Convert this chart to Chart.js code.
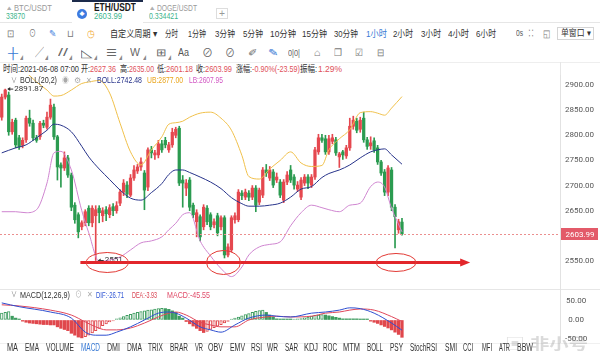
<!DOCTYPE html>
<html lang="zh-CN">
<head>
<meta charset="utf-8">
<title>ETH/USDT 1小时</title>
<script src="https://cdn.jsdelivr.net/npm/chart.js@4.4.1/dist/chart.umd.min.js"></script>
<style>
html,body{margin:0;padding:0;background:#fff;}
#root{position:relative;width:600px;height:358px;overflow:hidden;background:#fff;font-family:"Liberation Sans","Noto Sans CJK SC",sans-serif;}
.t{position:absolute;white-space:nowrap;line-height:1;transform-origin:0 50%;z-index:5;}
.ln{position:absolute;background:#e6e6e6;z-index:1;}
canvas{position:absolute;left:0;z-index:2;}
</style>
</head>
<body>
<div id="root">
  <div class="ln" style="left:0;top:22px;width:600px;height:1px"></div>
  <div style="position:absolute;left:72px;top:0;width:71px;height:23px;background:#fff;border-top:2px solid #1c2b4b;box-sizing:border-box;z-index:3"></div>
  <div style="position:absolute;left:77px;top:9px;width:10px;height:10px;border-radius:50%;background:#3d7be0;z-index:4"></div>
  <div style="position:absolute;left:216px;top:8px;width:12px;height:11px;border:1px solid #ddd;box-sizing:border-box;z-index:3"></div>
  <div style="position:absolute;left:557px;top:27px;width:37px;height:13px;border:1px solid #d5d5d5;box-sizing:border-box;z-index:3"></div>
  <div class="ln" style="left:0;top:62px;width:600px;height:1px;background:#eee"></div>
  <div class="ln" style="left:560px;top:62px;width:1px;height:13px"></div>
  <div class="ln" style="left:0;top:289px;width:600px;height:1px"></div>
  <div class="ln" style="left:0;top:343px;width:600px;height:1px;background:#f0f0f0"></div>
  <canvas id="main" width="600" height="214" style="top:75px"></canvas>
  <canvas id="macd" width="600" height="54" style="top:289px"></canvas>
</div>
<script>
// ---------- data ----------
const open = [
 2836,2876,2880,2807,2830,2795,2780,2791,2834,2824,
 2795,2797,2824,2816,2836,2856,2797,2741,2735,2755,
 2721,2661,2642,2618,2626,2655,2626,2640,2655,2640,
 2652,2642,2658,2650,2665,2687,2701,2681,2715,2729,
 2737,2725,2697,2771,2761,2761,2783,2790,2771,2781,
 2800,2814,2711,2695,2711,2661,2628,2638,2618,2655,
 2642,2622,2640,2618,2636,2562,2572,2632,2632,2685,
 2677,2685,2677,2695,2667,2681,2731,2715,2727,2711,
 2707,2671,2707,2731,2717,2693,2677,2705,2717,2701,
 2717,2767,2795,2793,2767,2788,2791,2757,2767,2759,
 2775,2818,2828,2812,2834,2791,2779,2789,2775,2747,
 2727,2687,2731,2657,2612,2627.36];
const high = [
 2882,2891.87,2886,2832,2834,2800,2795,2838,2850,2830,
 2800,2828,2830,2846,2872,2862,2800,2745,2767,2760,
 2725,2666,2646,2630,2652,2660,2660,2660,2660,2656,
 2658,2662,2664,2668,2692,2712,2708,2722,2740,2742,
 2755,2730,2775,2778,2770,2790,2790,2796,2786,2814,
 2816,2818,2720,2712,2716,2665,2652,2642,2662,2660,
 2646,2634,2645,2640,2640,2584,2640,2646,2692,2690,
 2693,2690,2700,2700,2695,2736,2742,2738,2732,2725,
 2712,2712,2728,2740,2722,2708,2716,2722,2722,2722,
 2776,2802,2802,2800,2800,2802,2796,2766,2770,2780,
 2834,2838,2834,2836,2846,2796,2797,2795,2780,2750,
 2732,2740,2736,2662,2633,2635];
const low = [
 2830,2872,2800,2802,2775,2772,2775,2786,2818,2790,
 2786,2792,2815,2812,2832,2792,2711,2697,2730,2716,
 2650,2625,2596,2612,2620,2620,2618,2551,2626,2628,
 2630,2636,2640,2645,2660,2680,2676,2678,2710,2724,
 2730,2652,2690,2755,2752,2755,2766,2775,2766,2776,
 2795,2700,2657,2680,2650,2636,2598,2590,2612,2622,
 2612,2616,2600,2612,2556,2558,2568,2625,2628,2672,
 2672,2670,2672,2648,2662,2676,2718,2710,2696,2706,
 2676,2666,2702,2706,2693,2688,2672,2700,2694,2696,
 2712,2762,2786,2762,2762,2783,2760,2736,2752,2754,
 2770,2812,2805,2806,2786,2772,2772,2766,2742,2720,
 2680,2680,2650,2576,2605,2601.18];
const close = [
 2876,2890,2807,2826,2781,2777,2790,2834,2824,2795,
 2790,2824,2820,2836,2860,2797,2737,2735,2755,2721,
 2657,2632,2608,2626,2648,2626,2655,2652,2646,2650,
 2644,2656,2650,2660,2687,2705,2683,2715,2731,2737,
 2747,2691,2771,2765,2765,2783,2771,2781,2781,2806,
 2812,2705,2705,2705,2657,2642,2646,2598,2657,2628,
 2618,2628,2606,2636,2562,2578,2636,2640,2687,2680,
 2687,2677,2695,2661,2691,2731,2725,2731,2701,2717,
 2681,2707,2721,2711,2701,2701,2711,2717,2705,2717,
 2771,2795,2790,2767,2793,2795,2765,2763,2761,2775,
 2818,2830,2810,2830,2791,2778,2785,2771,2747,2725,
 2687,2735,2657,2638,2628,2603.99];

// BOLL(20,2) read at these candle positions
const bollIdx = [0,4,7,10,13,15,17,20,23,25,28,31,34,37,40,43,46,48,50,52,54,57,60,63,66,69,71,74,77,80,83,86,89,92,94,97,100,103,106,108,110,112,115];
const bollMid = [2765,2775,2781,2795,2810,2822,2820,2807,2778,2757,2733,2712,2691,2675,2671,2686,2704,2722,2731,2731,2726,2717,2707,2694,2676,2664,2659,2659,2661,2665,2677,2693,2698,2716,2724,2731,2741,2755,2767,2771,2773,2761,2742.48];
const bollUp  = [2950,2940,2925,2906,2890,2878,2879,2890,2903,2906,2909,2884,2824,2767,2741,2771,2797,2822,2825,2828,2836,2844,2846,2834,2810,2760,2718,2713,2733,2750,2767,2745,2738,2740,2771,2793,2811,2845,2847,2844,2840,2854,2877.00];
const bollLow = [2648,2648,2646,2652,2705,2765,2768,2731,2650,2606,2549,2552,2558,2572,2586,2590,2598,2612,2625,2642,2646,2590,2560,2535,2519,2538,2562,2578,2583,2588,2620,2646,2661,2656,2652,2648,2661,2665,2698,2707,2697,2655,2607.95];

// MACD(12,26,9)
const macdHist = [
 18,20,22,10,5,2,-3,-6,-8,-9,
 -10,-11,-12,-12,-13,-13,-18,-22,-25,-28,
 -35,-40,-45,-47,-44,-40,-34,-28,-22,-15,
 -10,-5,-2,3,6,9,12,15,18,20,
 22,24,26,27,29,30,31,30,28,24,
 20,10,5,-4,-10,-16,-22,-28,-33,-30,
 -25,-20,-16,-12,-8,-4,2,5,8,11,
 14,17,20,23,25,26,20,13,7,3,
 2,2,2,1,2,3,4,6,8,10,
 12,13,14,13,11,9,7,5,3,3,
 3,3,3,2,1,0.5,-3,-6,-9,-13,
 -17,-21,-26,-32,-38,-45.55];
const macdIdx = [0,5,14,20,24,27,30,33,37,41,45,48,50,53,57,60,63,67,71,76,79,83,89,93,97,100,103,107,112,115];
const dif = [45,35,21,5,-32,-40,-40,-32,-18,0,18,21,18,5,-18,-26,-32,-13,5,13,10,8,18,21,26,32,30,18,-8,-26.71];
const dea = [40,37,26,13,-5,-18,-26,-26,-21,-8,8,18,21,13,-6,-13,-18,-18,0,8,10,8,10,18,21,26,29,26,9,-3.93];

// axis tick labels
const priceTicks = [2550,2600,2650,2700,2750,2800,2850,2900];
const macdTicks = [-50,0,50];

// ---------- styling / layout ----------
const RED = '#e5484f', GREEN = '#2b9b50';
const cColor = close.map((c,i)=> c>=open[i] ? RED : GREEN);
const fmt = v => String(Number(v.toFixed(2)));

// hand-drawn annotation anchors (candle indices)
const circled = [27,64,113];
const circleStyle = [{dx:11.5,rx:21,ry:10},{dx:-1,rx:17,ry:12},{dx:1,rx:20,ry:9}];
const arrowFrom = 22.6, arrowTo = 134.6;

function yScale(min,max,ticksArr){
  return {
    position:'right', min, max,
    afterBuildTicks:s=>{ s.ticks = ticksArr.map(v=>({value:v})); },
    afterFit:s=>{ s.width=40; s.paddingTop=0; s.paddingBottom=0; },
    ticks:{padding:5, crossAlign:'center', color:'#555', font:{family:'Roboto', size:8}, callback:v=>Number(v).toFixed(2)},
    grid:{drawOnChartArea:false, drawTicks:false},
    border:{display:true, color:'#e2e2e2'}
  };
}
const xScale = {type:'linear', min:-0.5, max:160.4, display:false, offset:false};

const annot = {
  id:'annot',
  afterDatasetsDraw(chart){
    const {ctx, chartArea:a, scales:{x,y}} = chart;
    const last = close[close.length-1];
    const yl = Math.round(y.getPixelForValue(last))+0.5;
    ctx.save();
    ctx.strokeStyle='#eb8f8f'; ctx.lineWidth=1; ctx.setLineDash([2,2]);
    ctx.beginPath(); ctx.moveTo(a.left,yl); ctx.lineTo(a.right,yl); ctx.stroke();
    ctx.setLineDash([]);
    // max / min markers
    const hi = Math.max(...high), lo = Math.min(...low);
    const iMax = high.indexOf(hi), iMin = low.indexOf(lo);
    ctx.font='8px Roboto'; ctx.textBaseline='middle'; ctx.textAlign='left';
    ctx.fillStyle='#333'; ctx.strokeStyle='#333';
    [[iMax,hi],[iMin,lo]].forEach(([i,v])=>{
      const px = x.getPixelForValue(i), py = y.getPixelForValue(v);
      ctx.beginPath(); ctx.moveTo(px+3,py); ctx.lineTo(px+8,py); ctx.stroke();
      ctx.beginPath(); ctx.moveTo(px+2,py); ctx.lineTo(px+5,py-2); ctx.lineTo(px+5,py+2); ctx.closePath(); ctx.fill();
      ctx.fillText(fmt(v), px+9, py-0.5);
    });
    // hand-drawn red arrow and circles
    const ya = y.getPixelForValue(lo)+2;
    const x1 = x.getPixelForValue(arrowFrom), x2 = x.getPixelForValue(arrowTo);
    ctx.strokeStyle='#e2262b'; ctx.fillStyle='#e2262b'; ctx.lineWidth=3;
    ctx.beginPath(); ctx.moveTo(x1,ya); ctx.lineTo(x2-8,ya); ctx.stroke();
    ctx.beginPath(); ctx.moveTo(x2,ya); ctx.lineTo(x2-10,ya-4); ctx.lineTo(x2-10,ya+4); ctx.closePath(); ctx.fill();
    ctx.lineWidth=1; ctx.strokeStyle='#e23a35';
    circled.forEach((i,k)=>{
      const st = circleStyle[k];
      ctx.beginPath(); ctx.ellipse(x.getPixelForValue(i)+st.dx, ya, st.rx, st.ry, 0, 0, Math.PI*2); ctx.stroke();
    });
    ctx.restore();
  },
  afterDraw(chart){
    const {ctx, scales:{y}} = chart;
    const last = close[close.length-1];
    const yl = Math.round(y.getPixelForValue(last));
    ctx.save();
    ctx.fillStyle='#e35a69';
    ctx.fillRect(561, yl-6, 37, 12);
    ctx.fillStyle='#fff'; ctx.font='8px Roboto'; ctx.textAlign='center'; ctx.textBaseline='middle';
    ctx.fillText(last.toFixed(2), 580, yl+0.5);
    ctx.restore();
  }
};

const lineDs = (idx, vals, color) => ({
  type:'line', data: idx.map((xv,i)=>({x:xv, y:vals[i]})), borderColor:color, borderWidth:1,
  pointRadius:0, cubicInterpolationMode:'monotone', fill:false, order:0
});

new Chart(document.getElementById('main'), {
  type:'bar',
  data:{datasets:[
    lineDs(bollIdx, bollUp, '#f0c04a'),
    lineDs(bollIdx, bollMid, '#27338a'),
    lineDs(bollIdx, bollLow, '#cf85d0'),
    {label:'body', data: open.map((o,i)=>({x:i, y:[o, close[i]]})), backgroundColor:cColor, barThickness:2.6, grouped:false, minBarLength:1, order:1},
    {label:'wick', data: open.map((o,i)=>({x:i, y:[low[i], high[i]]})), backgroundColor:cColor, barThickness:1, grouped:false, order:2}
  ]},
  options:{
    responsive:false, animation:false, devicePixelRatio:1,
    layout:{padding:0},
    plugins:{legend:{display:false}, tooltip:{enabled:false}},
    scales:{ x:xScale, y:yScale(2494.3, 2919.9, priceTicks) }
  },
  plugins:[annot]
});

const hollow = macdHist.map((v,i)=> i===0 ? true : v > macdHist[i-1]);
const hColor = macdHist.map(v=> v>=0 ? '#3d9c5f' : '#e0474c');
new Chart(document.getElementById('macd'), {
  type:'bar',
  data:{datasets:[
    lineDs(macdIdx, dif, '#2f4fd0'),
    lineDs(macdIdx, dea, '#e0475a'),
    {label:'MACD', data: macdHist.map((v,i)=>({x:i, y:v})),
     backgroundColor: macdHist.map((v,i)=> hollow[i] ? '#ffffff' : hColor[i]),
     borderColor: hColor, borderWidth: hollow.map(h=> h?1:0), borderSkipped:false,
     barThickness:2.6, minBarLength:1, grouped:false, order:1}
  ]},
  options:{
    responsive:false, animation:false, devicePixelRatio:1,
    layout:{padding:0},
    plugins:{legend:{display:false}, tooltip:{enabled:false}},
    scales:{ x:xScale, y:yScale(-60.53, 81.58, macdTicks) }
  }
});

// ---------- interface text ----------
const R = '#e0505a';
const UI = [
 ['▴',7,7,5,7,'#b0b0b0'],['BTC/USDT',14,7.5,38,9.5,'#9a9a9a'],['33870',6,16.5,19,8.5,'#3cb48c'],
 ['♦',79,14,6,8,'#ffffff'],['ETH/USDT',94,8,42,10,'#1a1a1a',1],['2603.99',94,16.5,28,8.5,'#3cb48c'],
 ['▴',150,7,5,7,'#b0b0b0'],['DOGE/USDT',157,7.5,40,9.5,'#9a9a9a'],['0.334421',149,16.5,29,8.5,'#3cb48c'],
 ['+',219,13.5,6,10,'#999'],
 ['⊡',7,33.5,7,10,'#777'],['⊙',29,33.5,7,10,'#777'],['✎',49,33.5,7,10,'#4a86e0'],['⊔',67,33.5,7,10,'#777'],['◷',87,33.5,8,10,'#f2a72a'],
 ['自定义周期 ▾',110,33.5,47,9.5,'#333'],['分时',165,33.5,13,9.5,'#333'],['1分钟',188,33.5,18,9.5,'#333'],
 ['3分钟',215,33.5,20,9.5,'#333'],['5分钟',243,33.5,20,9.5,'#333'],['10分钟',270,33.5,26,9.5,'#333'],
 ['15分钟',302,33.5,25,9.5,'#333'],['30分钟',334,33.5,24,9.5,'#333'],['1小时',366,33.5,21,9.5,'#3a7bd5'],
 ['2小时',393,33.5,20,9.5,'#333'],['3小时',421,33.5,20,9.5,'#333'],['4小时',448,33.5,21,9.5,'#333'],
 ['6小时',476,33.5,20,9.5,'#333'],['0s',516,33.5,7,9,'#555'],['∷',528,33.5,6,10,'#777'],['◱',543,33.5,7,10,'#777'],
 ['单窗口 ▾',561,33.5,30,9,'#333'],
 ['┼',8,53,10,11,'#3a7bd5'],['╱',35,53,9,10,'#666'],['//',58,53,10,10,'#666'],['◺',81,53,11,11,'#666'],
 ['☰',106,53,11,10,'#666'],['W',130,53,10,10,'#666'],['⊞',156,53,10,10,'#666'],['Aa',178,53,11,10,'#555'],
 ['⊘',202,53,11,11,'#666'],['⊘',225,53,10,11,'#666'],['✐',248,53,9,10,'#666'],['✎',268,53,10,10,'#3a7bd5'],
 ['0|0|',288,53,12,9,'#666'],['⌂',314,53,7,10,'#777'],['❐',334,53,8,10,'#777'],['☑',355,53,8,10,'#777'],['⊟',377,53,7,10,'#777'],
 ['◢',20,57,3,5,'#888'],['◢',45,57,3,5,'#888'],['◢',69,57,3,5,'#888'],['◢',94,57,3,5,'#888'],['◢',119,57,3,5,'#888'],['◢',143,57,3,5,'#888'],['◢',168,57,3,5,'#888'],
 ['时间:2021-06-08 07:00',3,68.5,76,9.5,'#333'],
 ['开:',81,68.5,9,9.5,'#333'],['2627.36',90,68.5,26,9.5,R],
 ['高:',120,68.5,9,9.5,'#333'],['2635.00',129,68.5,25,9.5,R],
 ['低:',157,68.5,9,9.5,'#333'],['2601.18',166,68.5,27,9.5,R],
 ['收:',196,68.5,9,9.5,'#333'],['2603.99',205,68.5,27,9.5,R],
 ['涨幅:',236,68.5,16,9.5,'#333'],['-0.90%(-23.59)',252,68.5,48,9.5,R],
 ['振幅:',300,68.5,17,9.5,'#333'],['1.29%',318,68.5,24,9.5,R],
 ['∨',11,80.5,6,8,'#888'],['BOLL(20,2)',20,80.5,37,9,'#333'],['◉',62,80.5,7,8,'#aaa'],['⚙',74,80.5,7,8,'#aaa'],['✕',86,80.5,6,8,'#aaa'],
 ['BOLL:2742.48',97,80.5,45,9,'#27338a'],['UB:2877.00',147,80.5,36,9,'#eaa51c'],['LB:2607.95',189,80.5,34,9,'#d258c4'],
 ['∨',11,295,6,8,'#888'],['MACD(12,26,9)',20,295,50,9,'#333'],['⊙',75,295,7,8,'#aaa'],['✕',87,295,6,8,'#aaa'],
 ['DIF:-26.71',96,295,28,9,'#2f55d4'],['DEA:-3.93',132,295,25,9,'#d94452'],['MACD:-45.55',167,295,43,9,'#e04b68'],
 ['MA',7,348,11,10,'#333'],['EMA',25,348,14,10,'#333'],['VOLUME',46,348,28,10,'#333'],['MACD',81,348,19,10,'#3a7bd5'],
 ['DMI',107,348,13,10,'#333'],['DMA',127,348,15,10,'#333'],['TRIX',148,348,15,10,'#333'],['BRAR',170,348,18,10,'#333'],
 ['VR',195,348,8,10,'#333'],['OBV',208,348,15,10,'#333'],['EMV',230,348,15,10,'#333'],['RSI',251,348,11,10,'#333'],
 ['WR',267,348,11,10,'#333'],['SAR',285,348,13,10,'#333'],['KDJ',304,348,14,10,'#333'],['ROC',323,348,14,10,'#333'],
 ['MTM',343,348,17,10,'#333'],['BOLL',367,348,16,10,'#333'],['PSY',390,348,13,10,'#333'],['StochRSI',410,348,27,10,'#333'],
 ['SMI',445,348,12,10,'#333'],['CCI',463,348,10,10,'#333'],['MFI',482,348,10,10,'#333'],['ATR',499,348,11,10,'#333'],
 ['BBW',517,348,16,10,'#333'],
 ['▣',505,343,20,15,'rgba(150,150,150,0.3)'],['非小号',530,343,58,15,'rgba(150,150,150,0.35)',1]
];
const root = document.getElementById('root');
UI.forEach(([txt,x,cy,w,size,color,bold])=>{
  const s = document.createElement('span');
  s.className='t'; s.textContent=txt;
  s.style.left=x+'px'; s.style.top=(cy-size/2)+'px';
  s.style.fontSize=size+'px'; s.style.color=color;
  if(bold) s.style.fontWeight='bold';
  root.appendChild(s);
  const nw = s.getBoundingClientRect().width;
  if(nw>0) s.style.transform='scaleX('+(w/nw).toFixed(3)+')';
});
</script>
</body>
</html>
